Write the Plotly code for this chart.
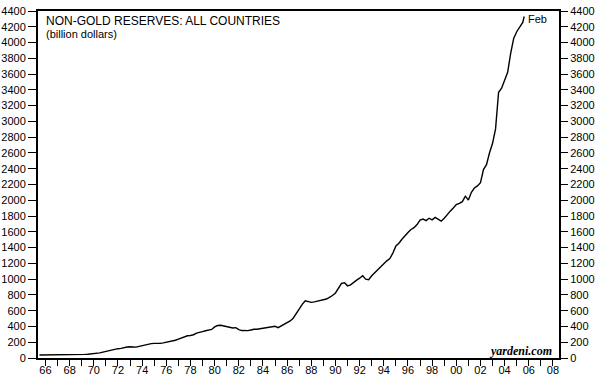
import plotly.graph_objects as go

# ---- data (billion dollars), quarterly ----
start_year = 1966
values = [
    38, 38, 39, 39,          # 1966
    40, 40, 41, 41,          # 1967
    42, 42, 43, 43,          # 1968
    43, 44, 45, 46,          # 1969
    48, 50, 53, 57,          # 1970
    65, 75, 85, 92,          # 1971
    100, 110, 118, 122,      # 1972
    132, 140, 142, 140,      # 1973
    138, 148, 158, 165,      # 1974
    175, 182, 185, 183,      # 1975
    186, 192, 198, 205,      # 1976
    215, 225, 240, 255,      # 1977
    270, 282, 285, 295,      # 1978
    315, 330, 335, 345,      # 1979
    355, 362, 395, 412,      # 1980
    415, 408, 400, 385,      # 1981
    380, 385, 360, 348,      # 1982
    345, 347, 355, 365,      # 1983
    365, 372, 378, 388,      # 1984
    392, 396, 402, 385,      # 1985
    405, 422, 445, 470,      # 1986
    505, 565, 625, 680,      # 1987
    725, 718, 705, 712,      # 1988
    720, 726, 732, 748,      # 1989
    770, 792, 825, 885,      # 1990
    945, 955, 915, 928,      # 1991
    962, 988, 1012, 1042,    # 1992
    1000, 992, 1042, 1082,   # 1993
    1112, 1165, 1200, 1232,  # 1994
    1262, 1330, 1420, 1455,  # 1995
    1505, 1552, 1592, 1630,  # 1996
    1652, 1692, 1750, 1762,  # 1997
    1742, 1772, 1752, 1782,  # 1998
    1762, 1735, 1772, 1822,  # 1999
    1862, 1902, 1945, 1962,  # 2000
    1982, 2052, 2002, 2102,  # 2001
    2155, 2182, 2222, 2390,  # 2002
    2452, 2602, 2722, 2905,  # 2003
    3370, 3422, 3532, 3622,  # 2004
    3862, 4052, 4137, 4202,  # 2005
    4255,                    # 2006 Jan
]
last_date = 2006.12       # Feb 2006
last_value = 4330

dates = [start_year + i * 0.25 for i in range(len(values))] + [last_date]
series = values + [last_value]

x_tick_vals = [y + 0.5 for y in range(1966, 2009)]
x_tick_text = ["66", "", "68", "", "70", "", "72", "", "74", "", "76", "", "78", "",
               "80", "", "82", "", "84", "", "86", "", "88", "", "90", "", "92", "",
               "94", "", "96", "", "98", "", "00", "", "02", "", "04", "", "06", "", "08"]
y_tick_vals = list(range(0, 4401, 200))
y_tick_text = [str(v) for v in y_tick_vals]

FONT = "Liberation Sans, Arial, sans-serif"

fig = go.Figure()
fig.add_trace(go.Scatter(x=dates, y=series, mode="lines",
                         line=dict(color="black", width=1.4),
                         showlegend=False, hoverinfo="skip"))
fig.add_trace(go.Scatter(x=dates, y=series, mode="lines", yaxis="y2",
                         line=dict(color="rgba(0,0,0,0)", width=0),
                         showlegend=False, hoverinfo="skip"))

axis_common = dict(tickfont=dict(family=FONT, size=11, color="black"),
                   showgrid=False, zeroline=False, automargin=False)

PT = 11   # plot top (px)
PB = 358  # plot bottom (px)
PH = PB - PT

fig.update_layout(
    width=597, height=385,
    margin=dict(l=38, r=38, t=PT, b=385 - PB, autoexpand=False),
    paper_bgcolor="white", plot_bgcolor="white",
    xaxis=dict(range=[1965.88, 2009.0], tickmode="array",
               tickvals=x_tick_vals, ticktext=x_tick_text,
               ticks="outside", ticklen=6, tickwidth=1, tickcolor="black",
               showline=True, linecolor="black", linewidth=2, mirror=True,
               ticklabelstandoff=-5,
               **axis_common),
    yaxis=dict(range=[0, 4400], tickmode="array",
               tickvals=y_tick_vals, ticktext=y_tick_text,
               ticks="outside", ticklen=8, tickwidth=1, tickcolor="black",
               showline=True, linecolor="black", linewidth=2, mirror=True,
               ticklabelstandoff=0,
               **axis_common),
    yaxis2=dict(range=[0, 4400], overlaying="y", side="right", tickmode="array",
                tickvals=y_tick_vals, ticktext=y_tick_text,
                ticks="outside", ticklen=8, tickwidth=1, tickcolor="black",
                showline=False, ticklabelstandoff=0,
                **axis_common),
    annotations=[
        dict(text="NON-GOLD RESERVES: ALL COUNTRIES", xref="paper", yref="paper",
             x=0.013, y=(PB - 21) / PH, xanchor="left", yanchor="middle",
             showarrow=False, borderpad=0,
             font=dict(family=FONT, size=12, color="black")),
        dict(text="(billion dollars)", xref="paper", yref="paper",
             x=0.013, y=(PB - 34.5) / PH, xanchor="left", yanchor="middle",
             showarrow=False, borderpad=0,
             font=dict(family=FONT, size=11, color="black")),
        dict(text="Feb", x=last_date, y=last_value, xref="x", yref="y",
             xanchor="left", yanchor="middle", xshift=2, yshift=-2,
             showarrow=False, font=dict(family=FONT, size=11, color="black")),
        dict(text="<b><i>yardeni.com</i></b>", xref="paper", yref="paper",
             x=(554 - 38) / 521, y=(PB - 351) / PH, xanchor="right", yanchor="middle",
             showarrow=False,
             font=dict(family="Liberation Serif, Times New Roman, serif", size=12, color="black")),
    ],
)

fig.write_html("out.html", config={"displayModeBar": False},
               post_script="document.body.style.margin='0';document.body.style.padding='0';")
